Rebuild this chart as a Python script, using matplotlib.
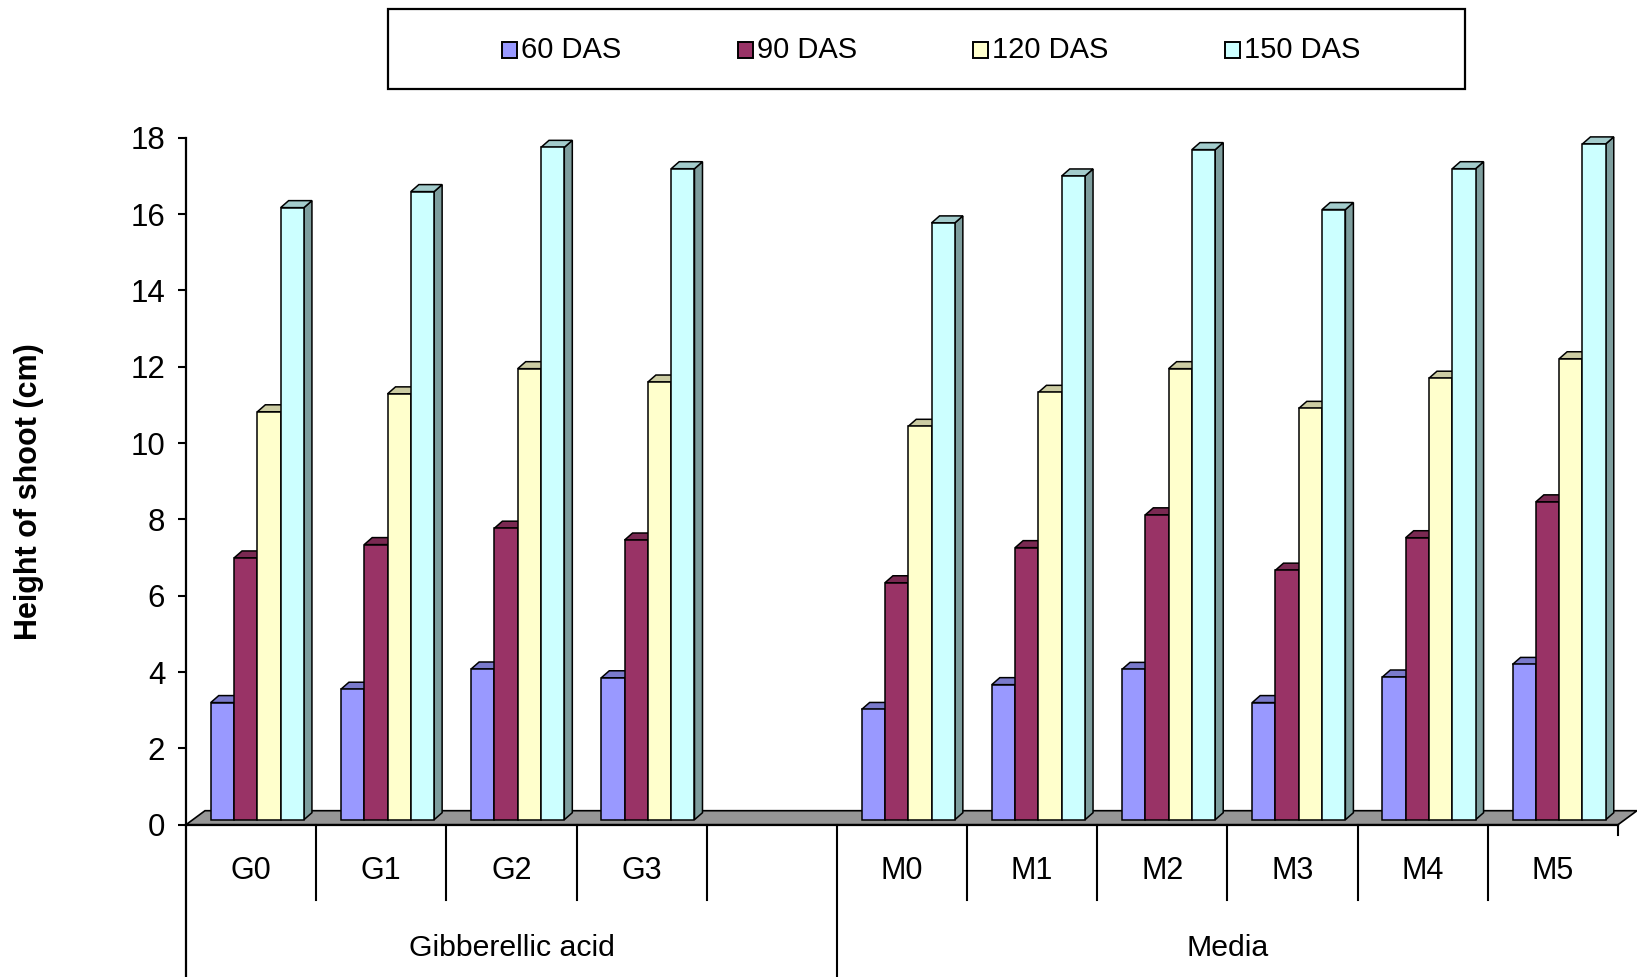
import numpy as np
import matplotlib
matplotlib.use("Agg")
import matplotlib.pyplot as plt
from matplotlib.patches import Polygon, Rectangle
from matplotlib.colors import to_rgb
import matplotlib.transforms as mtransforms

plt.rcParams['font.family'] = ['Liberation Sans', 'DejaVu Sans']

# ---- data ----
categories = ["G0", "G1", "G2", "G3", "M0", "M1", "M2", "M3", "M4", "M5"]
category_slots = [0, 1, 2, 3, 5, 6, 7, 8, 9, 10]
groups = ["Gibberellic acid", "Media"]
group_spans = [(0, 5), (5, 11)]
series = ["60 DAS", "90 DAS", "120 DAS", "150 DAS"]
das60 = [3.20, 3.55, 4.08, 3.85, 3.02, 3.67, 4.07, 3.20, 3.87, 4.20]
das90 = [6.99, 7.34, 7.77, 7.46, 6.34, 7.26, 8.12, 6.67, 7.52, 8.46]
das120 = [10.82, 11.29, 11.95, 11.60, 10.44, 11.33, 11.95, 10.91, 11.70, 12.21]
das150 = [16.17, 16.59, 17.75, 17.19, 15.77, 17.00, 17.69, 16.12, 17.19, 17.84]
y_ticks = [0, 2, 4, 6, 8, 10, 12, 14, 16, 18]
y_label = "Height of shoot (cm)"

values = [das60, das90, das120, das150]
colors = ["#9999FF", "#993366", "#FFFFCC", "#CCFFFF"]


def shade(c, f):
    r, g, b = to_rgb(c)
    return (r * f, g * f, b * f)


W, H = 1637, 977
fig = plt.figure(figsize=(W / 100, H / 100), dpi=100)
fig.patch.set_facecolor("white")

ax_left, ax_right = 186, 1618
ax_top, ax_bottom = 137.8, 824.7
ax = fig.add_axes([ax_left / W, 1 - ax_bottom / H,
                   (ax_right - ax_left) / W, (ax_bottom - ax_top) / H])
ax.set_xlim(0, 11)
ax.set_ylim(0, 18)
ax.set_facecolor("white")

px_x = (ax_right - ax_left) / 11.0      # pixels per slot
px_y = (ax_bottom - ax_top) / 18.0      # pixels per unit

# floor of the pseudo-3D plot
fdx, fdy = 19 / px_x, 14 / px_y
floor = Polygon([(0, 0), (11, 0), (11 + fdx, fdy), (fdx, fdy)], closed=True,
                facecolor="#969696", edgecolor="black", lw=1.2,
                clip_on=False, zorder=1)
ax.add_patch(floor)
ax.plot([0, 11], [0, 0], color="black", lw=1.6, clip_on=False, zorder=2)

# pseudo-3D columns
bar_w = 0.179
offset = 0.19
base = 5 / px_y
ddx, ddy = 8 / px_x, 7 / px_y
z = 3
for ci, slot in enumerate(category_slots):
    for si in range(4):
        v = values[si][ci]
        x0 = slot + offset + si * bar_w
        x1 = x0 + bar_w
        c = colors[si]
        side = Polygon([(x1, base), (x1, v), (x1 + ddx, v + ddy), (x1 + ddx, base + ddy)],
                       closed=True, facecolor=shade(c, 0.62), edgecolor="black",
                       lw=1.1, zorder=z, clip_on=False)
        top = Polygon([(x0, v), (x1, v), (x1 + ddx, v + ddy), (x0 + ddx, v + ddy)],
                      closed=True, facecolor=shade(c, 0.8), edgecolor="black",
                      lw=1.1, zorder=z, clip_on=False)
        ax.add_patch(side)
        ax.add_patch(top)
        ax.bar(x0, v - base, width=bar_w, bottom=base, align="edge",
               color=c, edgecolor="black", linewidth=1.1, zorder=z + 0.5)
        z += 1

# axes styling
for s in ["top", "right", "bottom"]:
    ax.spines[s].set_visible(False)
ax.spines["left"].set_linewidth(1.6)
ax.set_yticks(y_ticks)
ax.set_yticklabels([str(t) for t in y_ticks], fontsize=22.5)
ax.tick_params(axis="y", direction="out", length=6, width=1.5, pad=9)
ax.set_xticks([])

# category table under the axis
trans = mtransforms.blended_transform_factory(ax.transData, ax.transAxes)
inner_bottom = -(900 - ax_bottom) / (ax_bottom - ax_top)
outer_bottom = -(H - ax_bottom) / (ax_bottom - ax_top) - 0.01
for k in range(1, 11):
    yb = outer_bottom if k == 5 else inner_bottom
    ax.plot([k, k], [0, yb], color="black", lw=1.5, transform=trans, clip_on=False)
ax.plot([0, 0], [0, outer_bottom], color="black", lw=1.6, transform=trans, clip_on=False)
ax.plot([11, 11], [0, -10 / (ax_bottom - ax_top)], color="black", lw=1.5,
        transform=trans, clip_on=False)

cat_y = -(871 - ax_bottom) / (ax_bottom - ax_top)
for name, slot in zip(categories, category_slots):
    ax.text(slot + 0.5, cat_y, name, transform=trans, ha="center", va="center",
            fontsize=22)
grp_y = -(948 - ax_bottom) / (ax_bottom - ax_top)
for name, (a, b) in zip(groups, group_spans):
    ax.text((a + b) / 2, grp_y, name, transform=trans, ha="center", va="center",
            fontsize=21.8)

# y-axis title
fig.text(29 / W, 1 - 492 / H, y_label, rotation=90, ha="center", va="center",
         fontsize=22, fontweight="bold")

# legend box
lx0, lx1, ly0, ly1 = 388, 1465, 9.4, 88.7
fig.patches.append(Rectangle((lx0 / W, 1 - ly1 / H), (lx1 - lx0) / W, (ly1 - ly0) / H,
                             transform=fig.transFigure, facecolor="white",
                             edgecolor="black", lw=1.6))
marker_x = [502, 738, 973, 1225]
ly = 50
msz = 15
for name, c, mx in zip(series, colors, marker_x):
    fig.patches.append(Rectangle((mx / W, 1 - (ly + msz / 2) / H), msz / W, msz / H,
                                 transform=fig.transFigure, facecolor=c,
                                 edgecolor="black", lw=1.4))
    fig.text((mx + msz + 4) / W, 1 - ly / H, name, ha="left", va="center",
             fontsize=21)

fig.savefig("out.png", dpi=100, facecolor="white")
